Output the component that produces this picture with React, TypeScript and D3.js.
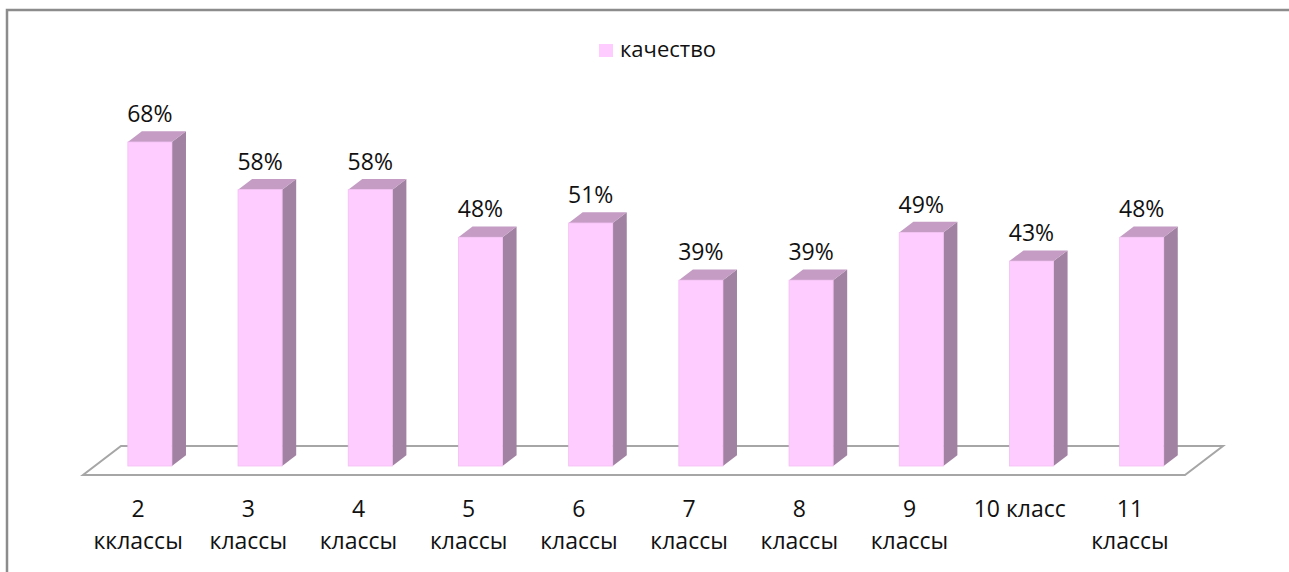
import React, { useEffect, useRef } from 'react';
import * as d3 from 'd3';

const categories = ["2 кклассы", "3 классы", "4 классы", "5 классы", "6 классы", "7 классы", "8 классы", "9 классы", "10 класс", "11 классы"];
const labelLines = [["2", "кклассы"], ["3", "классы"], ["4", "классы"], ["5", "классы"], ["6", "классы"], ["7", "классы"], ["8", "классы"], ["9", "классы"], ["10 класс"], ["11", "классы"]];
const quality = [68, 58, 58, 48, 51, 39, 39, 49, 43, 48];
const seriesName = "качество";

const WIDTH = 1289;
const HEIGHT = 572;

export default function App() {
  const svgRef = useRef<SVGSVGElement>(null);

  useEffect(() => {
    if (!svgRef.current) return;
    document.body.style.margin = "0";

    const svg = d3.select(svgRef.current);
    svg.selectAll("*").remove();

    const font = "'Open Sans', 'Noto Sans', sans-serif";

    // floor: front edge and depth offset of the 3d floor
    const floorLeft = 83, floorRight = 1185, floorFront = 475;
    const depthX = 38, depthY = -29;
    const barFront = 0.31, barBack = 0.68;

    const x = d3.scaleBand<string>()
      .domain(categories)
      .range([floorLeft, floorRight])
      .paddingInner(0.6)
      .paddingOuter(0.3);

    const h = d3.scaleLinear().domain([0, 100]).range([0, 476.5]);

    // frame
    svg.append("path")
      .attr("d", `M7,${HEIGHT} V10 H${WIDTH}`)
      .attr("fill", "none")
      .attr("stroke", "#8c8c8c")
      .attr("stroke-width", 2.5);

    // legend
    const legend = svg.append("g").attr("transform", "translate(599,44)");
    legend.append("rect").attr("width", 14).attr("height", 13).attr("fill", "#ffccff");
    legend.append("text")
      .attr("x", 21).attr("y", 13)
      .attr("font-family", font).attr("font-size", 22)
      .attr("fill", "#111")
      .text(seriesName);

    // floor
    const floor = [
      [floorLeft, floorFront],
      [floorRight, floorFront],
      [floorRight + depthX, floorFront + depthY],
      [floorLeft + depthX, floorFront + depthY],
    ];
    svg.append("path")
      .attr("d", "M" + floor.map(p => p.join(",")).join("L") + "Z")
      .attr("fill", "#fff")
      .attr("stroke", "#a6a6a6")
      .attr("stroke-width", 2);

    // bars
    const bw = x.bandwidth();
    const ox = barFront * depthX, oy = barFront * depthY;
    const dx = (barBack - barFront) * depthX, dy = (barBack - barFront) * depthY;

    categories.forEach((c, i) => {
      const x0 = (x(c) as number) + ox;
      const x1 = x0 + bw;
      const yb = floorFront + oy;
      const yt = yb - h(quality[i]);
      const g = svg.append("g");

      // side
      g.append("path")
        .attr("d", `M${x1},${yb} L${x1 + dx},${yb + dy} L${x1 + dx},${yt + dy} L${x1},${yt} Z`)
        .attr("fill", "#a282a2");
      // top
      g.append("path")
        .attr("d", `M${x0},${yt} L${x1},${yt} L${x1 + dx},${yt + dy} L${x0 + dx},${yt + dy} Z`)
        .attr("fill", "#c49cc4");
      // front
      g.append("rect")
        .attr("x", x0).attr("y", yt)
        .attr("width", bw).attr("height", yb - yt)
        .attr("fill", "#ffccff")
        .attr("stroke", "#f2bff2")
        .attr("stroke-width", 0.8);

      g.append("text")
        .attr("x", x0 + bw / 2)
        .attr("y", yt - 20)
        .attr("text-anchor", "middle")
        .attr("font-family", font).attr("font-size", 23)
        .attr("fill", "#111")
        .text(quality[i] + "%");
    });

    // category labels
    categories.forEach((c, i) => {
      const cx = (x(c) as number) + bw / 2;
      const t = svg.append("text")
        .attr("text-anchor", "middle")
        .attr("font-family", font).attr("font-size", 23)
        .attr("fill", "#111");
      labelLines[i].forEach((line, j) => {
        t.append("tspan").attr("x", cx).attr("y", 517 + j * 32).text(line);
      });
    });
  }, []);

  return (
    <svg ref={svgRef} width={WIDTH} height={HEIGHT} style={{ display: "block", background: "#fff" }} />
  );
}
